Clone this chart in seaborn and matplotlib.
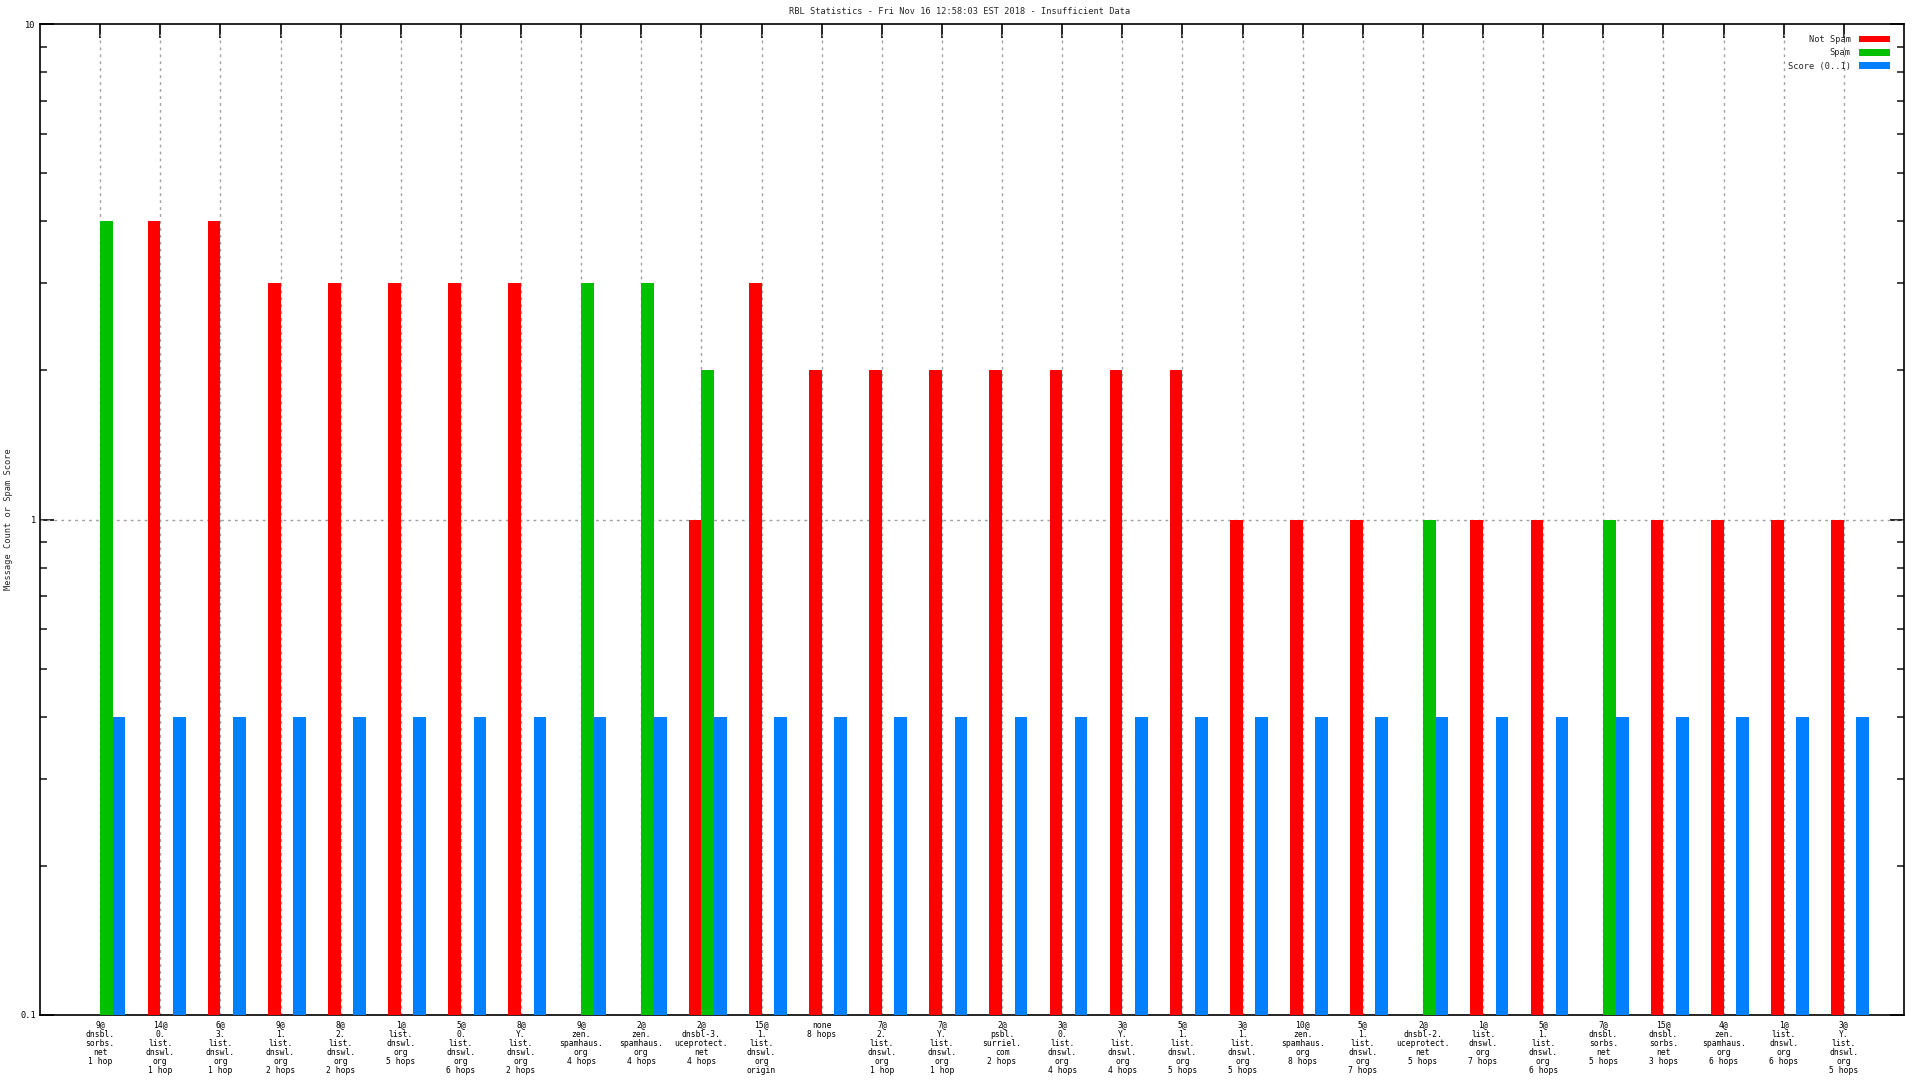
import numpy as np
import pandas as pd
import matplotlib
matplotlib.use("Agg")
import matplotlib.pyplot as plt
import seaborn as sns
from matplotlib.patches import Patch
from matplotlib.ticker import LogLocator, NullFormatter, FixedLocator

# ---------------- data ----------------
categories = [
    "9@\ndnsbl.\nsorbs.\nnet\n1 hop",
    "14@\n0.\nlist.\ndnswl.\norg\n1 hop",
    "6@\n3.\nlist.\ndnswl.\norg\n1 hop",
    "9@\n1.\nlist.\ndnswl.\norg\n2 hops",
    "8@\n2.\nlist.\ndnswl.\norg\n2 hops",
    "1@\nlist.\ndnswl.\norg\n5 hops",
    "5@\n0.\nlist.\ndnswl.\norg\n6 hops",
    "8@\nY.\nlist.\ndnswl.\norg\n2 hops",
    "9@\nzen.\nspamhaus.\norg\n4 hops",
    "2@\nzen.\nspamhaus.\norg\n4 hops",
    "2@\ndnsbl-3.\nuceprotect.\nnet\n4 hops",
    "15@\n1.\nlist.\ndnswl.\norg\norigin",
    "none\n8 hops",
    "7@\n2.\nlist.\ndnswl.\norg\n1 hop",
    "7@\nY.\nlist.\ndnswl.\norg\n1 hop",
    "2@\npsbl.\nsurriel.\ncom\n2 hops",
    "3@\n0.\nlist.\ndnswl.\norg\n4 hops",
    "3@\nY.\nlist.\ndnswl.\norg\n4 hops",
    "5@\n1.\nlist.\ndnswl.\norg\n5 hops",
    "3@\n1.\nlist.\ndnswl.\norg\n5 hops",
    "10@\nzen.\nspamhaus.\norg\n8 hops",
    "5@\n1.\nlist.\ndnswl.\norg\n7 hops",
    "2@\ndnsbl-2.\nuceprotect.\nnet\n5 hops",
    "1@\nlist.\ndnswl.\norg\n7 hops",
    "5@\n1.\nlist.\ndnswl.\norg\n6 hops",
    "7@\ndnsbl.\nsorbs.\nnet\n5 hops",
    "15@\ndnsbl.\nsorbs.\nnet\n3 hops",
    "4@\nzen.\nspamhaus.\norg\n6 hops",
    "1@\nlist.\ndnswl.\norg\n6 hops",
    "3@\nY.\nlist.\ndnswl.\norg\n5 hops",
]
not_spam = [None, 4, 4, 3, 3, 3, 3, 3, None, None, 1, 3, 2, 2, 2, 2, 2, 2, 2,
            1, 1, 1, None, 1, 1, None, 1, 1, 1, 1]
spam = [4, None, None, None, None, None, None, None, 3, 3, 2, None, None, None,
        None, None, None, None, None, None, None, None, 1, None, None, 1, None,
        None, None, None]
score = [0.4, 0.4, 0.4, 0.4, 0.4, 0.4, 0.4, 0.4, 0.4, 0.4, 0.4, 0.4, 0.4, 0.4,
         0.4, 0.4, 0.4, 0.4, 0.4, 0.4, 0.4, 0.4, 0.4, 0.4, 0.4, 0.4, 0.4, 0.4,
         0.4, 0.4]
series_names = ["Not Spam", "Spam", "Score (0..1)"]
series_colors = ["#ff0000", "#00c000", "#0080ff"]
series_offsets = [-0.105, 0.105, 0.315]
bar_width = 0.21

title = "RBL Statistics - Fri Nov 16 12:58:03 EST 2018 - Insufficient Data"
ylabel = "Message Count or Spam Score"

# ---------------- style ----------------
sns.set_style("ticks")
plt.rcParams["font.family"] = ["DejaVu Sans Mono", "DejaVu Sans"]
plt.rcParams["axes.linewidth"] = 1.2

fig = plt.figure(figsize=(19.2, 10.8), dpi=100)
ax = fig.add_axes([40 / 1920, 1 - 1015 / 1080, 1864 / 1920, (1015 - 24) / 1080])

idx = np.arange(len(categories))
for vals, name, color, off in zip([not_spam, spam, score], series_names,
                                  series_colors, series_offsets):
    df = pd.DataFrame({"x": idx + off, "y": vals}).dropna()
    sns.barplot(data=df, x="x", y="y", native_scale=True, width=bar_width,
                color=color, saturation=1, linewidth=0, errorbar=None,
                ax=ax, zorder=3)

ax.set_yscale("log")
ax.set_ylim(0.1, 10)
ax.set_xlim(-1, len(categories))

# grid
ax.set_xticks(idx)
ax.set_xticklabels(categories, fontsize=5.8, linespacing=1.0)
for xi in idx:
    ax.axvline(xi, ymin=0, ymax=0.99, color="#a0a0a0", lw=1,
               ls=(0, (2, 3)), zorder=1)
ax.axhline(1, color="#a0a0a0", lw=1, ls=(0, (2, 3)), zorder=1)

ax.yaxis.set_major_locator(FixedLocator([0.1, 1, 10]))
ax.set_yticklabels(["0.1", "1", "10"], fontsize=6.2)
ax.yaxis.set_minor_locator(LogLocator(base=10, subs=np.arange(2, 10)))
ax.yaxis.set_minor_formatter(NullFormatter())

ax.tick_params(axis="both", which="major", direction="in", length=10,
               width=1.2, top=True, right=True, pad=3, colors="black")
ax.tick_params(axis="x", which="major", bottom=False, top=True, pad=4)
ax.tick_params(axis="y", which="minor", direction="in", length=5, width=1.2,
               right=True, left=True)
for s in ax.spines.values():
    s.set_color("black")
    s.set_visible(True)

ax.set_xlabel("")
ax.set_ylabel(ylabel, fontsize=6.2)
ax.yaxis.set_label_coords(-0.0145, 0.5)
fig.suptitle(title, fontsize=6.2, y=1 - 7 / 1080, va="top")

handles = [Patch(facecolor=c, edgecolor="none", label=n)
           for n, c in zip(series_names, series_colors)]
ax.legend(handles=handles, loc="upper right", bbox_to_anchor=(0.9955, 0.994),
          frameon=False, markerfirst=False, fontsize=6.2, handlelength=3.7,
          handleheight=0.8, labelspacing=0.5, handletextpad=0.9,
          borderaxespad=0.2)

fig.savefig("out.png", dpi=100, facecolor="white")
